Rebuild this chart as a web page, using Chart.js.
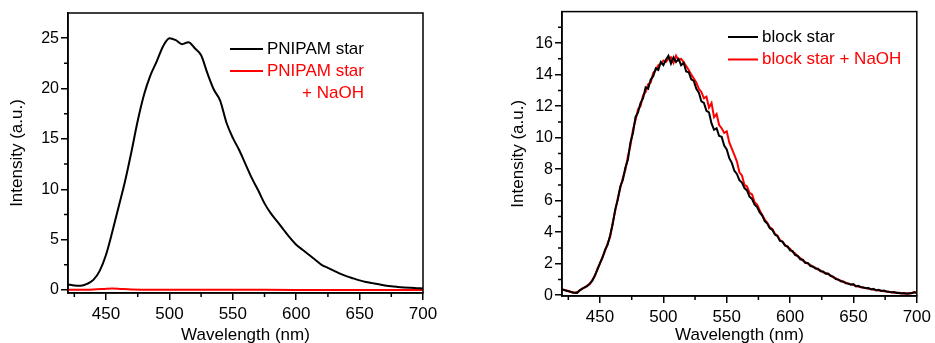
<!DOCTYPE html>
<html>
<head>
<meta charset="utf-8">
<script src="https://cdn.jsdelivr.net/npm/chart.js@4.4.1/dist/chart.umd.min.js"></script>
<style>
  html, body { margin: 0; padding: 0; background: #fff; overflow: hidden; }
  .box { position: absolute; top: 0; height: 343px; }
  #left { left: 0; width: 470px; }
  #right { left: 470px; width: 465px; }
</style>
</head>
<body>
<div class="box" id="left"><canvas id="chartA" width="470" height="343"></canvas></div>
<div class="box" id="right"><canvas id="chartB" width="465" height="343"></canvas></div>
<script>
// left panel: PNIPAM star
const pnipamWl = [420, 425, 430, 435, 440, 445, 450, 455, 460, 465, 470, 475, 480, 485, 490, 495,
  500, 505, 510, 515, 520, 525, 530, 535, 540, 545, 550, 555, 560, 565, 570, 575, 580, 585, 590,
  595, 600, 605, 610, 615, 620, 625, 630, 635, 640, 645, 650, 655, 660, 665, 670, 675, 680, 685,
  690, 695, 700];
const pnipamStar = [0.55, 0.45, 0.42, 0.6, 1.0, 1.9, 3.5, 5.8, 8.3, 10.8, 13.7, 16.8, 19.4, 21.3,
  22.7, 24.2, 25.0, 24.8, 24.4, 24.6, 24.0, 23.3, 21.5, 19.9, 18.8, 16.6, 15.1, 13.9, 12.5, 11.1,
  9.9, 8.6, 7.6, 6.8, 6.0, 5.2, 4.5, 4.0, 3.5, 3.0, 2.5, 2.2, 1.9, 1.6, 1.35, 1.15, 0.95, 0.8,
  0.68, 0.56, 0.45, 0.36, 0.3, 0.25, 0.21, 0.18, 0.15];
const pnipamNaohWl = [420, 430, 440, 448, 455, 462, 470, 480, 500, 550, 600, 650, 700];
const pnipamNaoh = [0.02, 0.02, 0.05, 0.1, 0.15, 0.1, 0.05, 0.03, 0.02, 0.02, 0.01, 0.01, 0.0];

// right panel: block star
const blockWl = [
  420, 422, 424, 426, 428, 430, 432, 434, 436, 438,
  440, 442, 444, 446, 448, 450, 452, 454, 456, 458,
  460, 462, 464, 466, 468, 470, 472, 474, 476, 478,
  480, 482, 484, 486, 488, 490, 492, 494, 496, 498,
  500, 502, 504, 506, 508, 510, 512, 514, 516, 518,
  520, 522, 524, 526, 528, 530, 532, 534, 536, 538,
  540, 542, 544, 546, 548, 550, 552, 554, 556, 558,
  560, 562, 564, 566, 568, 570, 572, 574, 576, 578,
  580, 582, 584, 586, 588, 590, 592, 594, 596, 598,
  600, 602, 604, 606, 608, 610, 612, 614, 616, 618,
  620, 622, 624, 626, 628, 630, 632, 634, 636, 638,
  640, 642, 644, 646, 648, 650, 652, 654, 656, 658,
  660, 662, 664, 666, 668, 670, 672, 674, 676, 678,
  680, 682, 684, 686, 688, 690, 692, 694, 696, 698,
  700];
const blockStar = [
  0.36, 0.33, 0.27, 0.25, 0.17, 0.16, 0.15, 0.32, 0.40, 0.52,
  0.58, 0.75, 0.92, 1.28, 1.62, 2.05, 2.38, 2.9, 3.2, 3.8,
  4.5, 5.45, 6.05, 6.9, 7.3, 8.1, 8.6, 9.7, 10.3, 11.3,
  11.6, 12.2, 12.5, 13.2, 13.1, 13.7, 13.9, 14.4, 14.3, 14.8,
  14.6, 14.95, 15.2, 14.7, 15.1, 14.8, 15.0, 14.6, 14.75, 14.2,
  14.15, 13.7, 13.6, 13.1, 12.85, 12.3, 12.2, 11.7, 11.6, 10.9,
  10.5, 10.6, 10.1, 10.05, 9.5, 9.25, 8.7, 8.4, 7.9, 7.7,
  7.3, 7.15, 6.8, 6.65, 6.25, 6.1, 5.75, 5.6, 5.25, 5.05,
  4.7, 4.55, 4.25, 4.15, 3.85, 3.75, 3.45, 3.4, 3.15, 3.1,
  2.85, 2.8, 2.55, 2.5, 2.28, 2.25, 2.05, 2.05, 1.85, 1.82,
  1.7, 1.68, 1.52, 1.5, 1.36, 1.38, 1.22, 1.18, 1.02, 1.0,
  0.88, 0.87, 0.76, 0.74, 0.66, 0.7, 0.56, 0.6, 0.5, 0.49,
  0.44, 0.45, 0.36, 0.4, 0.3, 0.34, 0.27, 0.29, 0.24, 0.22,
  0.18, 0.2, 0.14, 0.16, 0.11, 0.14, 0.1, 0.13, 0.12, 0.18,
  0.14];
const blockNaoh = [
  0.38, 0.32, 0.3, 0.22, 0.2, 0.14, 0.2, 0.28, 0.44, 0.48,
  0.62, 0.7, 0.98, 1.22, 1.7, 2.0, 2.45, 2.8, 3.3, 3.7,
  4.6, 5.35, 6.15, 6.8, 7.45, 7.95, 8.8, 9.5, 10.5, 11.1,
  11.8, 12.0, 12.7, 12.9, 13.4, 13.5, 14.1, 14.3, 14.6, 14.7,
  14.9, 14.8, 15.0, 15.1, 14.75, 15.2, 14.9, 15.0, 14.8, 14.55,
  14.3, 14.0, 13.75, 13.5, 13.1, 12.9, 12.5, 12.6, 11.9, 12.2,
  11.3, 11.5, 10.8, 10.6, 10.3, 10.4, 9.7, 9.3, 8.9, 8.5,
  7.8, 7.6, 7.0, 6.9, 6.5, 6.4, 5.9, 5.75, 5.4, 5.1,
  4.8, 4.6, 4.3, 4.2, 3.9, 3.8, 3.5, 3.4, 3.2, 3.05,
  2.95, 2.75, 2.65, 2.48, 2.36, 2.2, 2.1, 2.0, 1.92, 1.8,
  1.75, 1.62, 1.58, 1.46, 1.42, 1.34, 1.26, 1.14, 1.08, 0.98,
  0.92, 0.84, 0.8, 0.72, 0.7, 0.64, 0.6, 0.54, 0.52, 0.47,
  0.46, 0.41, 0.4, 0.35, 0.33, 0.3, 0.28, 0.25, 0.24, 0.2,
  0.2, 0.16, 0.17, 0.12, 0.14, 0.1, 0.12, 0.09, 0.15, 0.2,
  0.16];

// ticks
const xMajor = [450, 500, 550, 600, 650, 700];
const xMinor = [425, 475, 525, 575, 625, 675];
const yMajorA = [0, 5, 10, 15, 20, 25];
const yMinorA = [2.5, 7.5, 12.5, 17.5, 22.5];
const yMajorB = [0, 2, 4, 6, 8, 10, 12, 14, 16];
const yMinorB = [1, 3, 5, 7, 9, 11, 13, 15, 17];

const FONT = 'Liberation Sans, Arial, sans-serif';

const pts = (xs, ys) => xs.map((x, i) => ({ x: x, y: ys[i] }));

// frame + minor ticks
const frame = {
  id: 'frame',
  afterDraw(chart, args, opts) {
    const { ctx, chartArea } = chart;
    const sx = chart.scales.x, sy = chart.scales.y;
    ctx.save();
    ctx.strokeStyle = '#000';
    ctx.lineWidth = 1.5;
    ctx.beginPath();
    opts.xMinor.forEach(v => {
      const px = sx.getPixelForValue(v);
      ctx.moveTo(px, chartArea.bottom);
      ctx.lineTo(px, chartArea.bottom + 4);
    });
    opts.yMinor.forEach(v => {
      const py = sy.getPixelForValue(v);
      ctx.moveTo(chartArea.left, py);
      ctx.lineTo(chartArea.left - 4, py);
    });
    ctx.stroke();
    ctx.strokeRect(chartArea.left, chartArea.top, chartArea.width, chartArea.height);
    ctx.restore();
  }
};

// legend drawn inside the plot
const inLegend = {
  id: 'inLegend',
  afterDraw(chart, args, opts) {
    const ctx = chart.ctx;
    ctx.save();
    ctx.font = '17px ' + FONT;
    ctx.textBaseline = 'middle';
    let y = opts.y;
    chart.data.datasets.forEach(ds => {
      const lines = Array.isArray(ds.label) ? ds.label : [ds.label];
      ctx.strokeStyle = ds.borderColor;
      ctx.lineWidth = 2;
      ctx.beginPath();
      ctx.moveTo(opts.x, y);
      ctx.lineTo(opts.x + opts.len, y);
      ctx.stroke();
      ctx.fillStyle = ds.borderColor;
      const tx = opts.x + opts.len + 4;
      ctx.textAlign = 'left';
      ctx.fillText(lines[0], tx, y);
      const end = tx + ctx.measureText(lines[0]).width;
      for (let i = 1; i < lines.length; i++) {
        y += opts.gap;
        ctx.textAlign = 'right';
        ctx.fillText(lines[i], end, y);
      }
      y += opts.gap;
    });
    ctx.restore();
  }
};

function makeChart(id, datasets, cfg) {
  return new Chart(document.getElementById(id), {
    type: 'line',
    data: { datasets: datasets },
    plugins: [frame, inLegend],
    options: {
      responsive: false,
      animation: false,
      devicePixelRatio: 1,
      layout: { padding: cfg.padding },
      elements: { point: { radius: 0 }, line: { borderWidth: 2, tension: 0 } },
      plugins: {
        legend: { display: false },
        tooltip: { enabled: false },
        frame: { xMinor: xMinor, yMinor: cfg.yMinor },
        inLegend: cfg.legend
      },
      scales: {
        x: {
          type: 'linear',
          min: 420,
          max: 700,
          afterBuildTicks: s => { s.ticks = xMajor.map(v => ({ value: v })); },
          afterFit: s => { s.height = cfg.xHeight; },
          grid: { drawOnChartArea: false, color: '#000', lineWidth: 1.5, tickLength: 7 },
          border: { color: '#000', width: 1.5 },
          ticks: { color: '#000', font: { family: FONT, size: 17 }, padding: 4, maxRotation: 0 },
          title: { display: true, text: 'Wavelength (nm)', color: '#000',
            font: { family: FONT, size: 17 }, padding: { top: 0, bottom: -3 } }
        },
        y: {
          min: cfg.yMin,
          max: cfg.yMax,
          afterBuildTicks: s => { s.ticks = cfg.yMajor.map(v => ({ value: v })); },
          afterFit: s => { s.width = cfg.yWidth; },
          grid: { drawOnChartArea: false, color: '#000', lineWidth: 1.5, tickLength: 7 },
          border: { color: '#000', width: 1.5 },
          ticks: { color: '#000', font: { family: FONT, size: 16 }, padding: 2 },
          title: { display: true, text: 'Intensity (a.u.)', color: '#000',
            font: { family: FONT, size: 17 }, padding: { top: 7, bottom: 0 } }
        }
      }
    }
  });
}

makeChart('chartA', [
  { label: 'PNIPAM star', data: pts(pnipamWl, pnipamStar), borderColor: '#000000',
    cubicInterpolationMode: 'monotone' },
  { label: ['PNIPAM star', '+ NaOH'], data: pts(pnipamNaohWl, pnipamNaoh), borderColor: '#ff0000',
    cubicInterpolationMode: 'monotone' }
], {
  padding: { left: 0, top: 13, right: 47, bottom: 0 },
  xHeight: 50, yWidth: 68,
  yMin: -0.3, yMax: 27.5, yMajor: yMajorA, yMinor: yMinorA,
  legend: { x: 230, y: 49, len: 33, gap: 22 }
});

makeChart('chartB', [
  { label: 'block star', data: pts(blockWl, blockStar), borderColor: '#000000' },
  { label: 'block star + NaOH', data: pts(blockWl, blockNaoh), borderColor: '#ff0000' }
], {
  padding: { left: 31, top: 10, right: 15, bottom: 0 },
  xHeight: 47, yWidth: 61,
  yMin: -0.05, yMax: 18, yMajor: yMajorB, yMinor: yMinorB,
  legend: { x: 258, y: 37, len: 30, gap: 22.5 }
});
</script>
</body>
</html>
